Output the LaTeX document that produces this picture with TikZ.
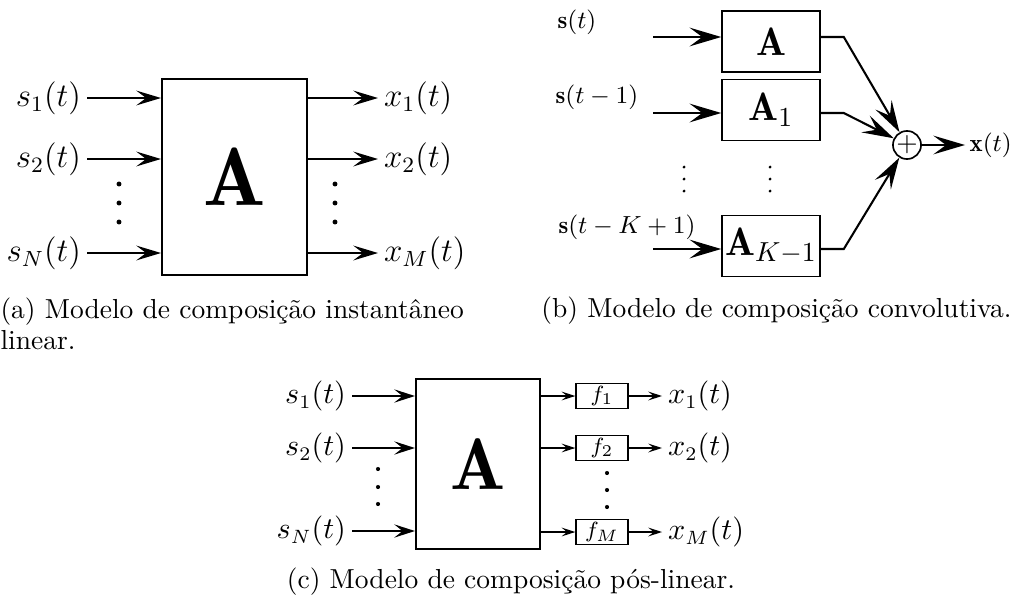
\documentclass[tikz,border=0pt]{standalone}
\usepackage{fontspec}
\usepackage{tikz}
\usetikzlibrary{arrows.meta,positioning}
\tikzset{
  mixbox/.style={
    draw,
    line width=0.75pt,
    inner sep=0pt
  },
  nlbox/.style={
    draw,
    line width=0.5pt,
    inner sep=0pt,
    font=\footnotesize,
    minimum width=18.9pt,
    minimum height=9.1pt
  },
  siglabel/.style={inner sep=2pt},
  sigA/.style={-{Stealth[length=9pt,width=5.4pt,inset=3.6pt]}, line width=0.75pt},
  sigB/.style={-{Stealth[length=11.5pt,width=6.8pt,inset=4.6pt]}, line width=0.75pt},
  sigC/.style={-{Stealth[length=7.5pt,width=4.8pt,inset=3pt]}, line width=0.7pt},
  sigthin/.style={-{Stealth[length=5pt,width=3.2pt,inset=2pt]}, line width=0.45pt},
  caption/.style={inner sep=0pt, font=\fontsize{10}{11.3}\selectfont, align=left}
}

\begin{document}
\begin{tikzpicture}[x=0.3636pt, y=-0.3636pt]
  \useasboundingbox (0,0) rectangle (1017,602);

  % (a) instantaneous mixture
  \node[mixbox, minimum width=52.7pt, minimum height=71.3pt, font=\fontsize{30}{36}\selectfont] (matA) at (234.5,177) {$\mathbf{A}$};

  \node[siglabel, anchor=east, font=\large] (sa1) at (87,98) {$s_1(t)$};
  \node[siglabel, anchor=east, font=\large] (sa2) at (87,159) {$s_2(t)$};
  \node[siglabel, anchor=east, font=\large] (saN) at (87,253) {$s_N(t)$};
  \node[siglabel, anchor=west, font=\large] (xa1) at (378,98) {$x_1(t)$};
  \node[siglabel, anchor=west, font=\large] (xa2) at (378,159) {$x_2(t)$};
  \node[siglabel, anchor=west, font=\large] (xaM) at (378,253) {$x_M(t)$};

  \draw[sigA] (sa1.east) -- (sa1.east -| matA.west);
  \draw[sigA] (sa2.east) -- (sa2.east -| matA.west);
  \draw[sigA] (saN.east) -- (saN.east -| matA.west);
  \draw[sigA] (matA.east |- xa1.west) -- (xa1.west);
  \draw[sigA] (matA.east |- xa2.west) -- (xa2.west);
  \draw[sigA] (matA.east |- xaM.west) -- (xaM.west);

  \foreach \y in {184,203,222} {
    \fill (119,\y) circle (0.9pt);
    \fill (335,\y) circle (0.9pt);
  }

  \node[caption, anchor=north west] (capa) at (0,297) {(a) Modelo de composição instantâneo\\linear.};

  % (b) convolutive mixture
  \node[mixbox, line width=0.6pt, minimum width=35.6pt, minimum height=22.2pt, font=\Large] (blk0) at (771,41.5) {$\mathbf{A}$};
  \node[mixbox, line width=0.6pt, minimum width=35.6pt, minimum height=22.2pt, font=\Large] (blk1) at (771,110) {$\mathbf{A}_1$};
  \node[mixbox, line width=0.6pt, minimum width=35.6pt, minimum height=22.2pt, font=\Large] (blkK) at (771,246) {$\mathbf{A}_{K-1}$};
  \node[circle, draw, line width=0.6pt, inner sep=0pt, minimum size=9.5pt] (sum) at (907,145) {$+$};

  \node[inner sep=0pt, font=\small] (sb0) at (577,22) {$\mathbf{s}(t)$};
  \node[inner sep=0pt, font=\small] (sb1) at (597,97) {$\mathbf{s}(t-1)$};
  \node[inner sep=0pt, font=\small] (sbK) at (627,227) {$\mathbf{s}(t-K+1)$};
  \node[inner sep=1.5pt, anchor=west, font=\small] (xb) at (965,145) {$\mathbf{x}(t)$};

  \coordinate (in0) at (653,37);
  \coordinate (in1) at (653,113);
  \coordinate (inK) at (653,249);
  \draw[sigB] (in0) -- (in0 -| blk0.west);
  \draw[sigB] (in1) -- (in1 -| blk1.west);
  \draw[sigB] (inK) -- (inK -| blkK.west);
  \draw[sigB] (in0 -| blk0.east) -- ++(23,0) -- (sum);
  \draw[sigB] (in1 -| blk1.east) -- ++(23,0) -- (sum);
  \draw[sigB] (inK -| blkK.east) -- ++(23,0) -- (sum);
  \draw[sigB] (sum) -- (xb.west);

  \foreach \y in {167,179,191} {
    \fill (684,\y) circle (0.55pt);
    \fill (770,\y) circle (0.55pt);
  }

  \node[caption, anchor=base east] (capb) at (1012,317) {(b) Modelo de composição convolutiva.};

  % (c) post-nonlinear mixture
  \node[mixbox, minimum width=45.1pt, minimum height=61.8pt, font=\fontsize{26.5}{32}\selectfont] (matC) at (478,464) {$\mathbf{A}$};
  \node[nlbox] (f1) at (602,396) {$f_1$};
  \node[nlbox] (f2) at (602,448) {$f_2$};
  \node[nlbox] (fM) at (602,532) {$f_M$};

  \node[siglabel, anchor=east, font=\fontsize{10.5}{12}\selectfont] (sc1) at (352,396) {$s_1(t)$};
  \node[siglabel, anchor=east, font=\fontsize{10.5}{12}\selectfont] (sc2) at (352,448) {$s_2(t)$};
  \node[siglabel, anchor=east, font=\fontsize{10.5}{12}\selectfont] (scN) at (352,531) {$s_N(t)$};
  \node[siglabel, anchor=west, font=\fontsize{10.5}{12}\selectfont] (xc1) at (662,396) {$x_1(t)$};
  \node[siglabel, anchor=west, font=\fontsize{10.5}{12}\selectfont] (xc2) at (662,448) {$x_2(t)$};
  \node[siglabel, anchor=west, font=\fontsize{10.5}{12}\selectfont] (xcM) at (662,532) {$x_M(t)$};

  \draw[sigC] (sc1.east) -- (sc1.east -| matC.west);
  \draw[sigC] (sc2.east) -- (sc2.east -| matC.west);
  \draw[sigC] (scN.east) -- (scN.east -| matC.west);
  \draw[sigthin] (matC.east |- f1.west) -- (f1.west);
  \draw[sigthin] (matC.east |- f2.west) -- (f2.west);
  \draw[sigthin] (matC.east |- fM.west) -- (fM.west);
  \draw[sigthin] (f1.east) -- (xc1.west);
  \draw[sigthin] (f2.east) -- (xc2.west);
  \draw[sigthin] (fM.east) -- (xcM.west);

  \foreach \y in {469,487,504} {
    \fill (378,\y) circle (0.75pt);
  }
  \foreach \y in {473,490,507} {
    \fill (607,\y) circle (0.75pt);
  }

  \node[caption, anchor=base] (capc) at (511,588) {(c) Modelo de composição pós-linear.};
\end{tikzpicture}
\end{document}
